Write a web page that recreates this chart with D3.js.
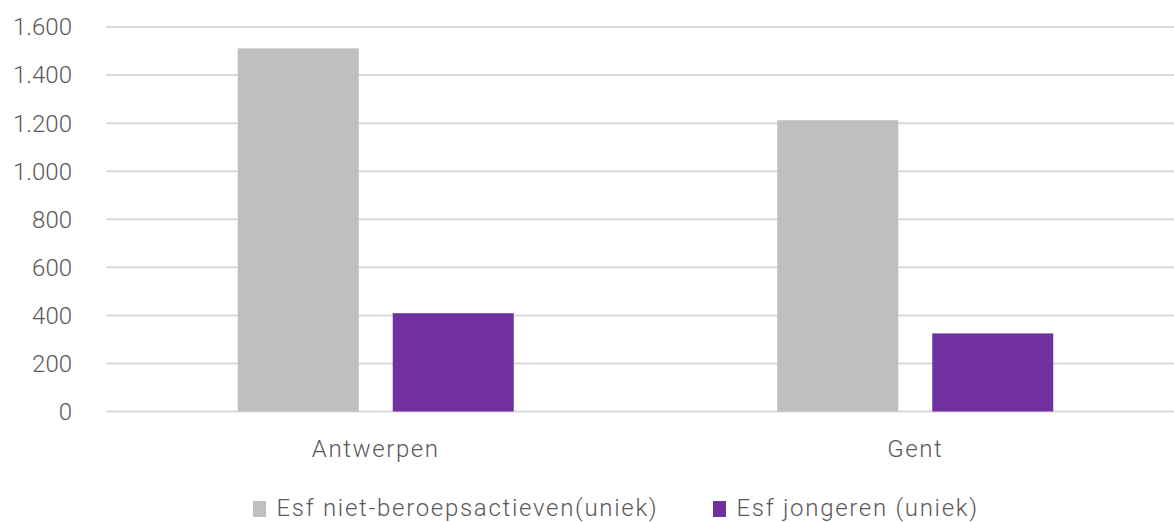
<!DOCTYPE html>
<html>
<head>
<meta charset="utf-8">
<script src="https://cdn.jsdelivr.net/npm/d3@7"></script>
<style>
    body { margin: 0; background: #fff; }
    text { font-family: Roboto, "Noto Sans", sans-serif; font-weight: 300; fill: #595959; }
</style>
</head>
<body>
<div id="chart"></div>
<script>
let categories = ["Antwerpen", "Gent"];
let seriesNames = ["Esf niet-beroepsactieven(uniek)", "Esf jongeren (uniek)"];
let seriesColors = ["#bfbfbf", "#7030a0"];
let nietBeroepsactieven = [1511, 1212];
let jongeren = [409, 325];
let yTicks = [0, 200, 400, 600, 800, 1000, 1200, 1400, 1600];

let w = 1174;
let h = 522;

let svg = d3.select("#chart")
    .append("svg")
    .attr("width", w)
    .attr("height", h);

let y = d3.scaleLinear()
    .domain([0, 1600])
    .range([411.5, 27]);

// plot area runs a little past the right edge of the picture
let x0 = d3.scaleBand()
    .domain(categories)
    .range([106, 1185]);

let barWidth = 121;
let barGap = 34;

let format = d3.formatLocale({decimal: ",", thousands: ".", grouping: [3], currency: ["", "€"]}).format(",d");

// gridlines
svg.selectAll("line.grid")
    .data(yTicks)
    .enter()
    .append("line")
    .attr("class", "grid")
    .attr("x1", 106)
    .attr("x2", w)
    .attr("y1", function (d) { return y(d); })
    .attr("y2", function (d) { return y(d); })
    .attr("stroke", "#d9d9d9")
    .attr("stroke-width", 2);

svg.selectAll("text.ytick")
    .data(yTicks)
    .enter()
    .append("text")
    .attr("class", "ytick")
    .attr("x", 72)
    .attr("y", function (d) { return y(d); })
    .attr("dy", "0.35em")
    .attr("text-anchor", "end")
    .attr("font-size", "24px")
    .text(function (d) { return format(d); });

let seriesData = [nietBeroepsactieven, jongeren];

seriesData.forEach(function (values, s) {
    svg.selectAll("rect.s" + s)
        .data(values)
        .enter()
        .append("rect")
        .attr("class", "s" + s)
        .attr("x", function (d, i) {
            let c = x0(categories[i]) + x0.bandwidth() / 2;
            return s === 0 ? c - barGap / 2 - barWidth : c + barGap / 2;
        })
        .attr("y", function (d) { return y(d); })
        .attr("width", barWidth)
        .attr("height", function (d) { return y(0) - y(d); })
        .attr("fill", seriesColors[s]);
});

svg.selectAll("text.xlabel")
    .data(categories)
    .enter()
    .append("text")
    .attr("class", "xlabel")
    .attr("x", function (d) { return x0(d) + x0.bandwidth() / 2; })
    .attr("y", 457)
    .attr("text-anchor", "middle")
    .attr("font-size", "24px")
    .attr("letter-spacing", "1.6px")
    .text(function (d) { return d; });

// legend
let legendX = [253, 713];
let legend = svg.selectAll("g.legend")
    .data(seriesNames)
    .enter()
    .append("g")
    .attr("class", "legend")
    .attr("transform", function (d, i) { return "translate(" + legendX[i] + ",0)"; });

legend.append("rect")
    .attr("x", 0)
    .attr("y", 501)
    .attr("width", 13)
    .attr("height", 16)
    .attr("fill", function (d, i) { return seriesColors[i]; });

legend.append("text")
    .attr("x", 23.5)
    .attr("y", 516)
    .attr("font-size", "24px")
    .attr("letter-spacing", "1.7px")
    .text(function (d) { return d; });
</script>
</body>
</html>
